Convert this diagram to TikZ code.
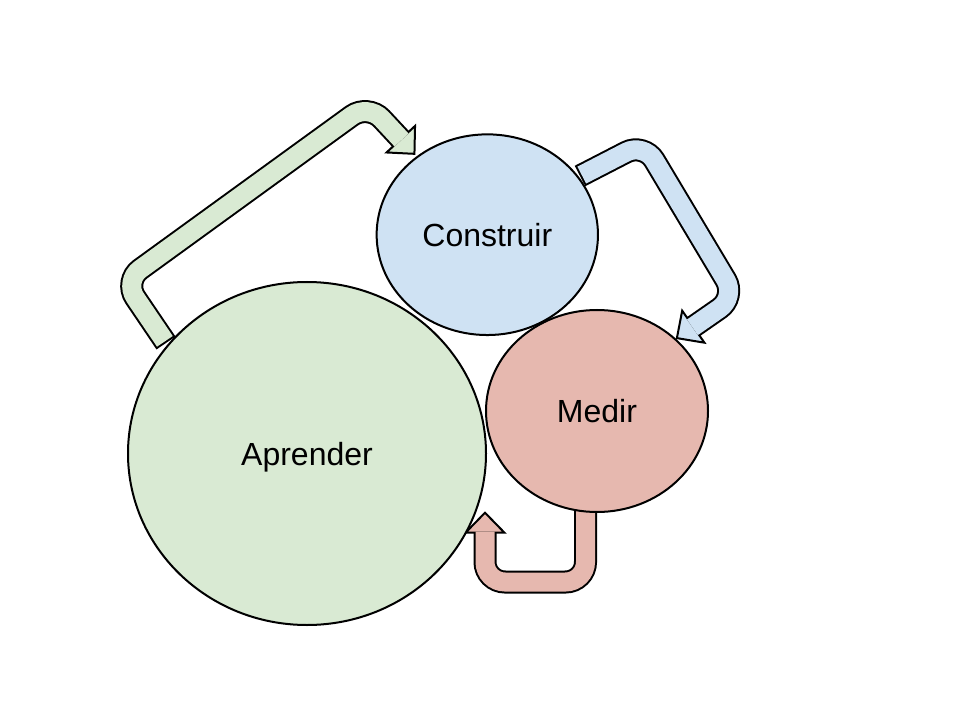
\documentclass[tikz,border=0pt]{standalone}
\usepackage{fontspec}
\setmainfont{Liberation Sans}
\usetikzlibrary{shapes.geometric,calc}
\definecolor{grn}{HTML}{D9EAD3}
\definecolor{blu}{HTML}{CFE2F3}
\definecolor{rd}{HTML}{E6B8AF}
% #1 fill colour, #2 centre line path, #3 base of head, #4 point before base
\newcommand{\bentarrow}[4]{%
  \draw[line width=17.25pt, rounded corners=15pt] #2;
  \filldraw[fill=#1, line width=1.5pt, line join=miter]
    ($(#3)!14.6pt!90:(#4)$) -- ($(#3)!-15pt!(#4)$) -- ($(#3)!14.6pt!-90:(#4)$) -- cycle;
  \draw[#1, line width=14.25pt, rounded corners=15pt,
        shorten <=1.5pt, shorten >=-0.8pt] #2;
}
\begin{document}
\begin{tikzpicture}[x=0.75pt, y=-0.75pt,
  stage/.style={ellipse, draw=black, line width=1.5pt, inner sep=0pt,
                text depth=0pt, font=\fontsize{24}{28}\selectfont}]
\useasboundingbox[fill=white] (0,0) rectangle (960,720);

% green arrow: Aprender -> Construir
\coordinate (g0) at (166,343);
\coordinate (g1) at (124,281);
\coordinate (g2) at (368,104);
\coordinate (gb) at (400.8,139.2);
\bentarrow{grn}{(g0) -- (g1) -- (g2) -- (gb)}{gb}{g2}

% blue arrow: Construir -> Medir
\coordinate (b0) at (580,176);
\coordinate (b1) at (644,143);
\coordinate (b2) at (736,297);
\coordinate (bb) at (693.3,326.7);
\bentarrow{blu}{(b0) -- (b1) -- (b2) -- (bb)}{bb}{b2}

% red arrow: Medir -> Aprender
\coordinate (r0) at (585.5,508);
\coordinate (r1) at (585.5,582);
\coordinate (r2) at (485,582);
\coordinate (rb) at (485,532.7);
\bentarrow{rd}{(r0) -- (r1) -- (r2) -- (rb)}{rb}{r2}

\node[stage, fill=grn, minimum width=268.5pt, minimum height=257.25pt]
  (aprender) at (307,453.5) {Aprender};
\node[stage, fill=blu, minimum width=166pt, minimum height=150.5pt]
  (construir) at (487.3,234.7) {Construir};
\node[stage, fill=rd, minimum width=166.5pt, minimum height=151.5pt]
  (medir) at (597,411) {Medir};
\end{tikzpicture}
\end{document}
